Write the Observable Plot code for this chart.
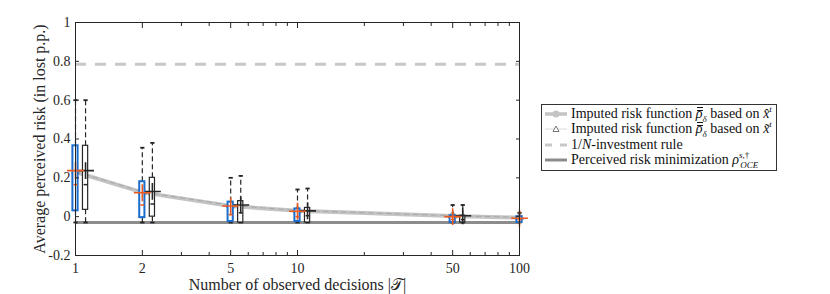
<!DOCTYPE html>
<html><head><meta charset="utf-8">
<script src="https://cdn.jsdelivr.net/npm/d3@7"></script>
<script src="https://cdn.jsdelivr.net/npm/@observablehq/plot@0.6"></script>
<style>
body{margin:0;background:#fff;font-family:"Liberation Serif","DejaVu Serif",serif;}
#wrap{position:relative;width:830px;height:294px;}
#legend{position:absolute;left:541px;top:104px;width:234px;border:1px solid #333;background:#fff;font-size:14px;color:#111;padding:1px 0 2px 0;}
.row{display:flex;align-items:center;height:15.5px;white-space:nowrap;}
.row svg{flex:none;margin:0 3px 0 2px;}
sub,sup{font-size:9px;line-height:0;}
.ob{display:inline-block;position:relative;}
.ob::before{content:"";position:absolute;left:1px;right:0;top:1px;height:2px;border-top:1px solid #111;border-bottom:1px solid #111;}
</style></head>
<body><div id="wrap"><div id="chart"></div>
<div id="legend">
<div class="row"><svg width="24" height="10"><line x1="1" y1="5" x2="23" y2="5" stroke="#c4c4c4" stroke-width="3.5"/><circle cx="12" cy="5" r="3.5" fill="#c4c4c4"/></svg><span>Imputed risk function <i class="ob">ρ</i><sub><i>δ</i></sub> based on <i>x̂</i><sup><i>t</i></sup></span></div>
<div class="row"><svg width="24" height="10"><line x1="1" y1="5" x2="23" y2="5" stroke="#dcdcdc" stroke-width="1"/><path d="M12,2 L15,7.5 L9,7.5 Z" fill="#fff" stroke="#555" stroke-width="0.8"/></svg><span>Imputed risk function <i class="ob">ρ</i><sub><i>δ</i></sub> based on <i>x̃</i><sup><i>t</i></sup></span></div>
<div class="row"><svg width="24" height="10"><line x1="1" y1="5" x2="8" y2="5" stroke="#c8c8c8" stroke-width="3"/><line x1="16" y1="5" x2="23" y2="5" stroke="#c8c8c8" stroke-width="3"/></svg><span>1/<i>N</i>-investment rule</span></div>
<div class="row"><svg width="24" height="10"><line x1="1" y1="5" x2="23" y2="5" stroke="#8c8c8c" stroke-width="3"/></svg><span>Perceived risk minimization <i>ρ</i><sup style="position:relative;top:-1px"><i>s</i>,†</sup><sub style="margin-left:-9px"><i>OCE</i></sub></span></div>
</div></div>
<script>
// ---- data ----
const xs = [1, 2, 5, 10, 50, 100];
const blackXs = [1, 2, 5, 10, 50];
// blue boxes (x-hat based)
const blueQ1   = [0.03, -0.005, -0.025, -0.025, -0.03, -0.03];
const blueQ3   = [0.365, 0.18, 0.075, 0.04, 0.005, 0.0];
const blueMed  = [0.165, 0.06, 0.01, 0.0, -0.015, -0.015];
const blueMean = [0.237, 0.123, 0.055, 0.028, 0.0, -0.008];
const blueLo   = [-0.03, -0.03, -0.03, -0.03, -0.03, -0.03];
const blueHi   = [0.6, 0.355, 0.2, 0.14, 0.06, 0.02];
// black boxes (x-tilde based)
const blackQ1   = [0.035, 0.0, -0.03, -0.03, -0.03];
const blackQ3   = [0.365, 0.2, 0.08, 0.045, 0.005];
const blackMed  = [0.165, 0.065, 0.02, 0.005, -0.015];
const blackMean = [0.237, 0.13, 0.06, 0.03, 0.005];
const blackLo   = [-0.03, -0.03, -0.03, -0.03, -0.03];
const blackHi   = [0.6, 0.38, 0.21, 0.145, 0.06];
// imputed risk function lines
const imputedHat   = [0.23, 0.125, 0.055, 0.03, 0.003, -0.005];
const imputedTilde = [0.232, 0.128, 0.058, 0.032, 0.005, -0.003];
const oneOverN = 0.785;
const perceivedMin = -0.03;
const yTicks = [-0.2, 0, 0.2, 0.4, 0.6, 0.8, 1];
const xLabelTicks = [1, 2, 5, 10, 50, 100];
const xMinorTicks = [3, 4, 6, 7, 8, 9, 20, 30, 40, 60, 70, 80, 90];

const blue = xs.map((x, i) => ({x, q1: blueQ1[i], q3: blueQ3[i], med: blueMed[i], mean: blueMean[i], lo: blueLo[i], hi: blueHi[i]}));
const black = blackXs.map((x, i) => ({x, q1: blackQ1[i], q3: blackQ3[i], med: blackMed[i], mean: blackMean[i], lo: blackLo[i], hi: blackHi[i]}));
const hat = xs.map((x, i) => ({x, y: imputedHat[i]}));
const tilde = xs.map((x, i) => ({x, y: imputedTilde[i]}));

const hline = {draw(ctx, size) { const r = Math.sqrt(size) / 2; ctx.moveTo(-r, 0); ctx.lineTo(r, 0); }};
const sh = d => d.x * 1.11;
const BLUE = "#1a6dcc", RED = "#ea5a1f", DARK = "#262626";

const boxMarks = (data, xf, color, sw, medColor, meanColor) => [
  Plot.ruleX(data, {x: xf, y1: "q3", y2: "hi", stroke: DARK, strokeWidth: 1.2, strokeDasharray: "5,3"}),
  Plot.ruleX(data, {x: xf, y1: "q1", y2: "lo", stroke: DARK, strokeWidth: 1.2, strokeDasharray: "5,3"}),
  Plot.dot(data, {x: xf, y: "hi", symbol: hline, r: 2.4, stroke: DARK, strokeWidth: 1.8}),
  Plot.dot(data, {x: xf, y: "lo", symbol: hline, r: 2.4, stroke: DARK, strokeWidth: 1.8}),
  Plot.rect(data, {x1: xf, x2: xf, y1: "q1", y2: "q3", insetLeft: -2.6, insetRight: -2.6, stroke: color, strokeWidth: sw, fill: "white"}),
  Plot.dot(data, {x: xf, y: "med", symbol: hline, r: 2.2, stroke: medColor, strokeWidth: 1.5}),
  Plot.dot(data, {x: xf, y: "mean", symbol: "plus", r: 5.5, stroke: meanColor, strokeWidth: 1.6})
];

const chart = Plot.plot({
  width: 830, height: 294,
  marginLeft: 75, marginRight: 311, marginTop: 22, marginBottom: 39,
  style: {fontFamily: "Liberation Serif, DejaVu Serif, serif", fontSize: "14px", color: DARK},
  x: {type: "log", domain: [1, 100]},
  y: {domain: [-0.2, 1]},
  marks: [
    Plot.ruleY([perceivedMin], {stroke: "#8c8c8c", strokeWidth: 3}),
    Plot.ruleY([oneOverN], {stroke: "#c8c8c8", strokeWidth: 3, strokeDasharray: "11,9"}),
    Plot.line(hat, {x: "x", y: "y", stroke: "#c4c4c4", strokeWidth: 4}),
    Plot.dot(hat, {x: "x", y: "y", r: 3.5, fill: "#c4c4c4"}),
    Plot.line(tilde, {x: "x", y: "y", stroke: "#a8a8a8", strokeWidth: 1, strokeDasharray: "5,4"}),
    Plot.dot(tilde, {x: "x", y: "y", symbol: "triangle", r: 3, stroke: "#888", strokeWidth: 0.8}),
    ...boxMarks(black, sh, DARK, 1.2, DARK, DARK),
    ...boxMarks(blue, "x", BLUE, 2, RED, RED),
    Plot.frame({stroke: DARK}),
    Plot.axisY({ticks: yTicks, tickSize: 0, tickPadding: 5, tickFormat: d => String(d), fontSize: 14, label: null}),
    Plot.axisY({ticks: [], label: "Average perceived risk (in lost p.p.)", labelAnchor: "center", labelArrow: "none", labelOffset: 42, fontSize: 16}),
    Plot.axisY({ticks: yTicks, anchor: "left", tickSize: -4, text: null, label: null}),
    Plot.axisY({ticks: yTicks, anchor: "right", tickSize: -4, text: null, label: null}),
    Plot.axisX({ticks: xLabelTicks, tickSize: 0, tickPadding: 8, tickFormat: d => String(d), fontSize: 14, label: null}),
    Plot.axisX({ticks: [], label: "Number of observed decisions |𝒯|", labelAnchor: "center", labelArrow: "none", labelOffset: 34, fontSize: 16}),
    Plot.axisX({ticks: xLabelTicks, anchor: "bottom", tickSize: -5, text: null, label: null}),
    Plot.axisX({ticks: xLabelTicks, anchor: "top", tickSize: -5, text: null, label: null}),
    Plot.axisX({ticks: xMinorTicks, anchor: "bottom", tickSize: -3, text: null, label: null}),
    Plot.axisX({ticks: xMinorTicks, anchor: "top", tickSize: -3, text: null, label: null})
  ]
});
document.getElementById("chart").appendChild(chart);
</script></body></html>
